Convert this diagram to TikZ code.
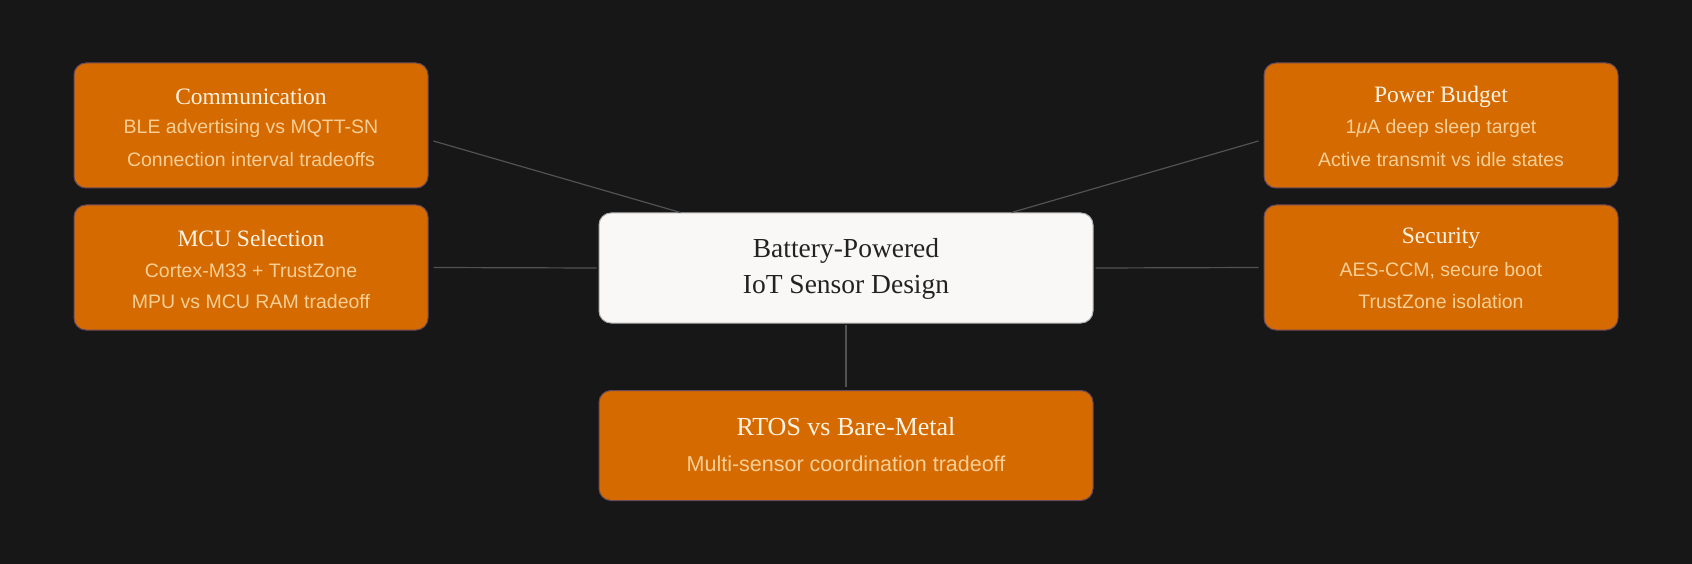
\documentclass[tikz,border=0pt]{standalone}
\usepackage{fontspec}
\setmainfont{Liberation Serif}
\setsansfont{Liberation Sans}
\usetikzlibrary{calc}
\definecolor{bg}{HTML}{171717}
\definecolor{orangefill}{HTML}{D56A00}
\definecolor{orangeedge}{HTML}{6A4A5A}
\definecolor{mainfill}{HTML}{F9F8F6}
\definecolor{mainedge}{HTML}{B0B0B0}
\definecolor{titlecol}{HTML}{FFF4E4}
\definecolor{subcol}{HTML}{F7CF96}
\definecolor{linkcol}{HTML}{525252}
\definecolor{maintext}{HTML}{222222}
\tikzset{
  topicbox/.style={draw=orangeedge, line width=1pt, fill=orangefill, rounded corners=12pt, minimum width=354pt, minimum height=125pt, inner sep=0pt},
  bottombox/.style={draw=orangeedge, line width=1pt, fill=orangefill, rounded corners=12pt, minimum width=494pt, minimum height=110pt, inner sep=0pt},
  mainbox/.style={draw=mainedge, line width=1pt, fill=mainfill, rounded corners=12pt, minimum width=494pt, minimum height=110pt, inner sep=0pt},
  ttl/.style={text=titlecol, font=\fontsize{23.5}{26}\selectfont, inner sep=0pt, anchor=center},
  sub/.style={text=subcol, font=\sffamily\fontsize{19.5}{22}\selectfont, inner sep=0pt, anchor=center},
  link/.style={draw=linkcol, line width=1.2pt},
}
\begin{document}
\begin{tikzpicture}[x=1pt,y=-1pt]
\fill[bg] (0,0) rectangle (1692,564);
\useasboundingbox (0,0) rectangle (1692,564);

% boxes
\node[topicbox] (comm) at (251,125.5) {};
\node[topicbox] (mcu) at (251,267.5) {};
\node[topicbox] (power) at (1441,125.5) {};
\node[topicbox] (sec) at (1441,267.5) {};
\node[mainbox] (main) at (846,268) {};
\node[bottombox] (rtos) at (846,445.5) {};

% texts
\node[ttl] (commT) at (251,96.5) {Communication};
\node[sub] (commA) at (251,128.5) {BLE advertising vs MQTT-SN};
\node[sub] (commB) at (251,160) {Connection interval tradeoffs};

\node[ttl] (mcuT) at (251,238.5) {MCU Selection};
\node[sub] (mcuA) at (251,270.5) {Cortex-M33 + TrustZone};
\node[sub] (mcuB) at (251,302) {MPU vs MCU RAM tradeoff};

\node[ttl] (powerT) at (1441,96.5) {Power Budget};
\node[sub] (powerA) at (1441,128.5) {1\textit{μ}A deep sleep target};
\node[sub] (powerB) at (1441,160) {Active transmit vs idle states};

\node[ttl] (secT) at (1441,238.5) {Security};
\node[sub] (secA) at (1441,270.5) {AES-CCM, secure boot};
\node[sub] (secB) at (1441,302) {TrustZone isolation};

\node[text=maintext, font=\fontsize{27.5}{36}\selectfont, align=center, inner sep=0pt] (mainT) at (846,269) {Battery-Powered\\IoT Sensor Design};

\node[ttl, font=\fontsize{26}{30}\selectfont] (rtosT) at (846,427) {RTOS vs Bare-Metal};
\node[sub, font=\sffamily\fontsize{21.5}{24}\selectfont] (rtosA) at (846,464) {Multi-sensor coordination tradeoff};

% connectors
\draw[link] ([xshift=5pt,yshift=-15.5pt]comm.east) -- ([xshift=82pt]main.north west);
\draw[link] ([xshift=-5pt,yshift=-15.5pt]power.west) -- ([xshift=-82pt]main.north east);
\draw[link] ([xshift=5pt]mcu.east) -- ([xshift=-2pt]main.west);
\draw[link] ([xshift=-5pt]sec.west) -- ([xshift=2pt]main.east);
\draw[link] ([yshift=-1pt]main.south) -- ([yshift=3pt]rtos.north);
\end{tikzpicture}
\end{document}
